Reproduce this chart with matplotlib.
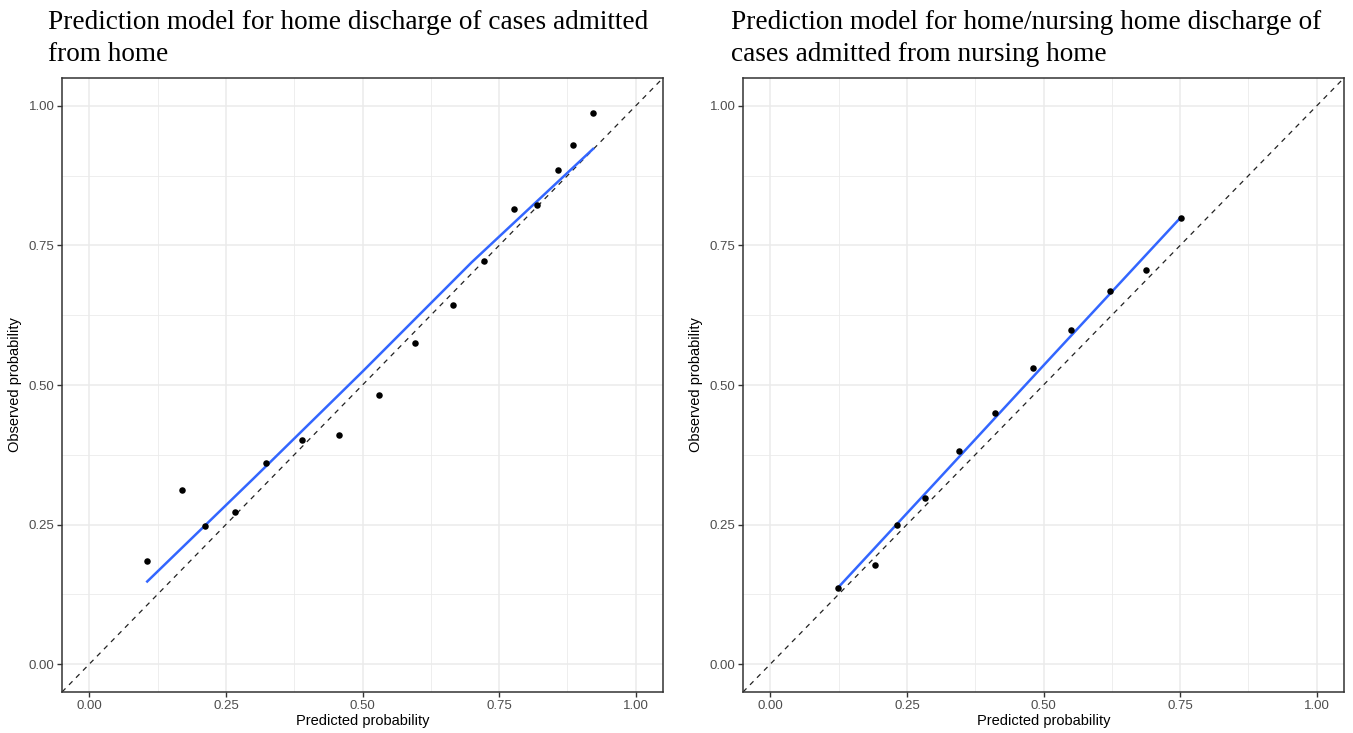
import matplotlib
matplotlib.use("Agg")
import matplotlib.pyplot as plt
import numpy as np

# Left panel: cases admitted from home
home_pred = [0.106, 0.169, 0.212, 0.266, 0.323, 0.390, 0.457, 0.530,
             0.597, 0.665, 0.723, 0.777, 0.820, 0.858, 0.885, 0.922]
home_obs = [0.184, 0.311, 0.247, 0.272, 0.360, 0.401, 0.411, 0.482,
            0.575, 0.643, 0.722, 0.816, 0.823, 0.885, 0.930, 0.987]
home_fit_x = [0.106, 0.300, 0.500, 0.700, 0.922]
home_fit_y = [0.148, 0.332, 0.524, 0.720, 0.923]

# Right panel: cases admitted from nursing home
nh_pred = [0.124, 0.191, 0.231, 0.284, 0.345, 0.412, 0.480, 0.551,
           0.622, 0.687, 0.751]
nh_obs = [0.137, 0.178, 0.249, 0.298, 0.382, 0.450, 0.531, 0.598,
          0.669, 0.706, 0.800]
nh_fit_x = [0.124, 0.300, 0.500, 0.751]
nh_fit_y = [0.137, 0.323, 0.535, 0.800]

titles = ["Prediction model for home discharge of cases admitted\nfrom home",
          "Prediction model for home/nursing home discharge of\ncases admitted from nursing home"]
ticks = [0.0, 0.25, 0.5, 0.75, 1.0]
tick_labels = ["0.00", "0.25", "0.50", "0.75", "1.00"]

W, H = 1353, 733
fig = plt.figure(figsize=(W / 100, H / 100), dpi=100)
fig.patch.set_facecolor("white")

panels = [
    (62, 663, home_pred, home_obs, home_fit_x, home_fit_y, 48),
    (743, 1344, nh_pred, nh_obs, nh_fit_x, nh_fit_y, 731),
]
top, bottom = 78, 692

for i, (x0, x1, px, py, fx, fy, tx) in enumerate(panels):
    ax = fig.add_axes([x0 / W, 1 - bottom / H, (x1 - x0) / W, (bottom - top) / H])
    ax.set_xlim(-0.05, 1.05)
    ax.set_ylim(-0.05, 1.05)
    ax.set_xticks(ticks)
    ax.set_xticklabels(tick_labels)
    ax.set_yticks(ticks)
    ax.set_yticklabels(tick_labels)
    ax.set_xticks(np.arange(0.125, 1.0, 0.25), minor=True)
    ax.set_yticks(np.arange(0.125, 1.0, 0.25), minor=True)
    ax.grid(True, which="major", color="#ebebeb", linewidth=1.1, zorder=0)
    ax.grid(True, which="minor", color="#ebebeb", linewidth=0.6, zorder=0)
    ax.tick_params(which="minor", length=0)
    ax.tick_params(which="major", length=3.5, width=1, color="#333333",
                   labelcolor="#4d4d4d", labelsize=9.5, pad=2)
    for lab in ax.get_xticklabels() + ax.get_yticklabels():
        lab.set_family("Liberation Sans")
    for sp in ax.spines.values():
        sp.set_color("#333333")
        sp.set_linewidth(1.1)
    ax.set_axisbelow(True)

    ax.axline((0, 0), slope=1, color="#222222", linestyle=(0, (4, 4)),
              linewidth=0.9, zorder=2)
    ax.plot(fx, fy, color="#3366FF", linewidth=1.8, zorder=3)
    ax.scatter(px, py, s=22, color="black", zorder=4, linewidths=0)

    ax.set_xlabel("Predicted probability", family="Liberation Sans",
                  fontsize=10.5, labelpad=2)
    ax.set_ylabel("Observed probability", family="Liberation Sans",
                  fontsize=10.5, labelpad=5)

    fig.text(tx / W, 1 - 10 / H, titles[i], family="Liberation Serif",
             fontsize=19.6, ha="left", va="top", linespacing=1.35)

fig.savefig("out.png", dpi=100, facecolor="white")
